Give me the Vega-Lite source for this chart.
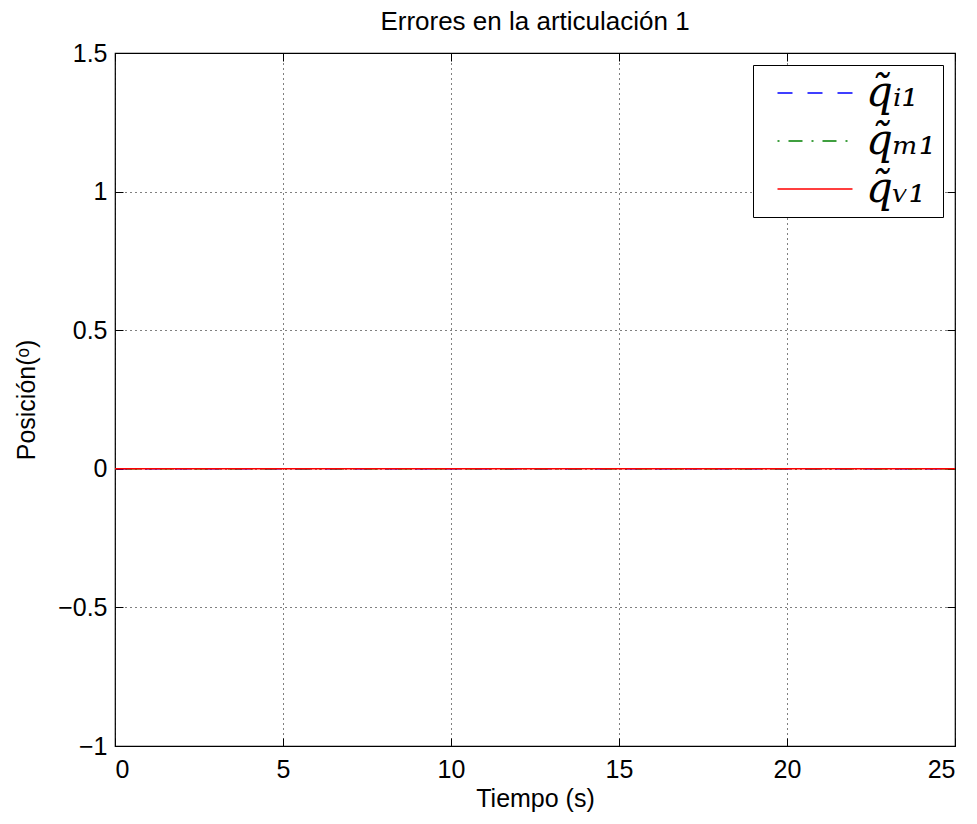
{
  "$schema": "https://vega.github.io/schema/vega-lite/v6.json",
  "width": 840,
  "height": 693,
  "autosize": {"type": "none"},
  "padding": {"left": 115, "top": 53, "right": 22, "bottom": 78},
  "background": "white",
  "title": {"text": "Errores en la articulación 1", "font": "Liberation Sans", "fontSize": 26, "fontWeight": "normal", "color": "black", "offset": 6},
  "config": {
    "view": {"stroke": "black", "strokeWidth": 1.2},
    "axis": {"labelFont": "Liberation Sans", "titleFont": "Liberation Sans", "labelColor": "black", "titleColor": "black", "titleFontWeight": "normal", "domain": false, "tickColor": "black", "tickSize": -8}
  },
  "data": {"values": [
    {"t": 0, "e": 0, "serie": "q̃ᵢ₁"}, {"t": 5, "e": 0, "serie": "q̃ᵢ₁"}, {"t": 10, "e": 0, "serie": "q̃ᵢ₁"}, {"t": 15, "e": 0, "serie": "q̃ᵢ₁"}, {"t": 20, "e": 0, "serie": "q̃ᵢ₁"}, {"t": 25, "e": 0, "serie": "q̃ᵢ₁"},
    {"t": 0, "e": 0, "serie": "q̃ₘ₁"}, {"t": 5, "e": 0, "serie": "q̃ₘ₁"}, {"t": 10, "e": 0, "serie": "q̃ₘ₁"}, {"t": 15, "e": 0, "serie": "q̃ₘ₁"}, {"t": 20, "e": 0, "serie": "q̃ₘ₁"}, {"t": 25, "e": 0, "serie": "q̃ₘ₁"},
    {"t": 0, "e": 0, "serie": "q̃ᵥ₁"}, {"t": 5, "e": 0, "serie": "q̃ᵥ₁"}, {"t": 10, "e": 0, "serie": "q̃ᵥ₁"}, {"t": 15, "e": 0, "serie": "q̃ᵥ₁"}, {"t": 20, "e": 0, "serie": "q̃ᵥ₁"}, {"t": 25, "e": 0, "serie": "q̃ᵥ₁"}
  ]},
  "layer": [
    {
      "mark": {"type": "line", "strokeWidth": 1.5, "clip": true},
      "encoding": {
        "x": {"field": "t", "type": "quantitative", "scale": {"domain": [0, 25], "nice": false, "zero": false},
          "axis": {"orient": "bottom", "values": [0, 5, 10, 15, 20, 25], "title": "Tiempo (s)", "titleFontSize": 25, "labelFontSize": 25, "labelPadding": 19, "titlePadding": 4,
            "grid": true, "gridColor": "black", "gridDash": [1, 4], "gridOpacity": 1, "gridWidth": 1}},
        "y": {"field": "e", "type": "quantitative", "scale": {"domain": [-1, 1.5], "nice": false, "zero": false},
          "axis": {"orient": "left", "values": [-1, -0.5, 0, 0.5, 1, 1.5], "title": "Posición(ᵒ)", "titleFontSize": 25, "labelFontSize": 25, "labelPadding": 16, "titlePadding": 18,
            "labelExpr": "replace(format(datum.value, '~g'), '-', '−')",
            "grid": true, "gridColor": "black", "gridDash": [1, 4], "gridOpacity": 1, "gridWidth": 1}},
        "color": {"field": "serie", "type": "nominal", "sort": ["q̃ᵢ₁", "q̃ₘ₁", "q̃ᵥ₁"],
          "scale": {"domain": ["q̃ᵢ₁", "q̃ₘ₁", "q̃ᵥ₁"], "range": ["#0000ff", "#008000", "#ff0000"]},
          "legend": {"orient": "top-right", "offset": 12, "title": null, "strokeColor": "black", "fillColor": "white", "padding": 7,
            "labelFont": "DejaVu Serif", "labelFontSize": 42, "labelFontStyle": "italic", "labelColor": "black", "symbolType": "M-3,0H3", "symbolSize": 625, "symbolStrokeWidth": 1.5, "rowPadding": 6, "labelOffset": 30, "symbolOffset": 34}},
        "strokeDash": {"field": "serie", "type": "nominal", "sort": ["q̃ᵢ₁", "q̃ₘ₁", "q̃ᵥ₁"],
          "scale": {"domain": ["q̃ᵢ₁", "q̃ₘ₁", "q̃ᵥ₁"], "range": [[15, 15], [2, 9, 14, 9], [1, 0]]},
          "legend": null}
      }
    },
    {
      "mark": {"type": "point", "opacity": 0},
      "encoding": {
        "x": {"field": "t", "type": "quantitative", "axis": {"orient": "top", "values": [0, 5, 10, 15, 20, 25], "labels": false, "title": null, "grid": false}},
        "y": {"field": "e", "type": "quantitative", "axis": {"orient": "right", "values": [-1, -0.5, 0, 0.5, 1, 1.5], "labels": false, "title": null, "grid": false}}
      }
    }
  ],
  "resolve": {"axis": {"x": "independent", "y": "independent"}}
}
